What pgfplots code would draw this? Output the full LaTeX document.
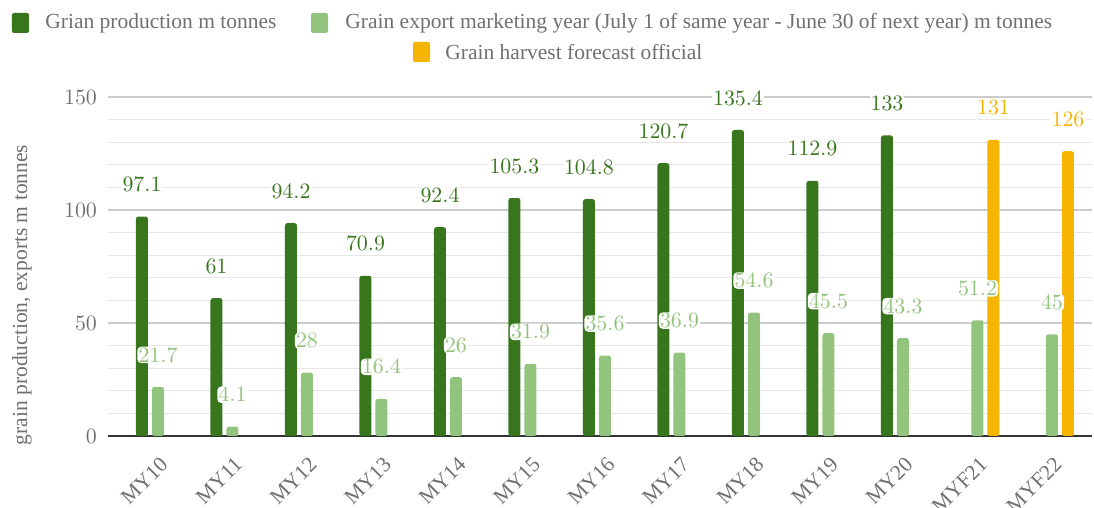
\documentclass[border=0pt]{standalone}
\usepackage{fontspec}
\setmainfont{Liberation Serif}
\usepackage{pgfplots}
\pgfplotsset{compat=1.18}
\definecolor{dgreen}{HTML}{38761D}
\definecolor{lgreen}{HTML}{93C47D}
\definecolor{fyel}{HTML}{F4B400}
\definecolor{tgray}{HTML}{707070}
\definecolor{majgrid}{HTML}{CCCCCC}
\definecolor{mingrid}{HTML}{E6E6E6}
\begin{document}
\begin{tikzpicture}[font=\fontsize{10.75}{12}\selectfont]
\useasboundingbox (-54pt,-36pt) rectangle (493pt,218pt);
\begin{axis}[
  at={(0pt,0pt)}, anchor=south west,
  scale only axis, width=492pt, height=169.5pt,
  xmin=-0.671, xmax=12.537, ymin=0, ymax=150,
  clip=false,
  axis y line*=left, axis x line*=bottom,
  y axis line style={draw=none},
  x axis line style={-, draw=black!80, line width=0.8pt},
  xtick={0,...,12},
  xticklabels={MY10,MY11,MY12,MY13,MY14,MY15,MY16,MY17,MY18,MY19,MY20,MYF21,MYF22},
  xticklabel style={rotate=45, anchor=east, text=tgray, inner sep=0.3pt, xshift=-6.2pt, yshift=-11pt},
  major tick length=0pt, minor tick length=0pt,
  ytick={0,50,100,150},
  minor y tick num=4,
  ymajorgrids, yminorgrids,
  major grid style={draw=majgrid, line width=0.6pt},
  minor grid style={draw=mingrid, line width=0.6pt},
  yticklabel style={text=tgray, xshift=-2pt},
  ybar, bar width=6pt,
  every node near coord/.append style={anchor=center, yshift=16pt, fill=white, inner sep=0.6pt, rounded corners=2pt, font=\fontsize{10.75}{12}\selectfont},
]
\addplot[fill=dgreen, draw=none, bar shift=-8pt, rounded corners=1.2pt,
  nodes near coords,
  every node near coord/.append style={text=dgreen}]
  coordinates {(0,97.1) (1,61) (2,94.2) (3,70.9) (4,92.4) (5,105.3) (6,104.8) (7,120.7) (8,135.4) (9,112.9) (10,133)};
\addplot[fill=lgreen, draw=none, bar shift=0pt, rounded corners=1.2pt,
  nodes near coords,
  every node near coord/.append style={text=lgreen}]
  coordinates {(0,21.7) (1,4.1) (2,28) (3,16.4) (4,26) (5,31.9) (6,35.6) (7,36.9) (8,54.6) (9,45.5) (10,43.3) (11,51.2) (12,45)};
\addplot[fill=fyel, draw=none, bar shift=8pt, rounded corners=1.2pt,
  nodes near coords,
  every node near coord/.append style={text=fyel}]
  coordinates {(11,131) (12,126)};
\end{axis}
% legend
\fill[dgreen, rounded corners=1pt] (-48pt,201.5pt) rectangle (-39.5pt,211.5pt);
\node[anchor=west, text=tgray, inner sep=0pt] at (-31.5pt,206.5pt) {Grian production m tonnes};
\fill[lgreen, rounded corners=1pt] (101.5pt,201.5pt) rectangle (110pt,211.5pt);
\node[anchor=west, text=tgray, inner sep=0pt] at (118.5pt,206.5pt) {Grain export marketing year (July 1 of same year - June 30 of next year) m tonnes};
\fill[fyel, rounded corners=1pt] (152.5pt,187pt) rectangle (161pt,197pt);
\node[anchor=west, text=tgray, inner sep=0pt] at (168.5pt,192pt) {Grain harvest forecast official};
\node[rotate=90, text=tgray] at (-43pt,70.5pt) {grain production, exports m tonnes};
\end{tikzpicture}
\end{document}
